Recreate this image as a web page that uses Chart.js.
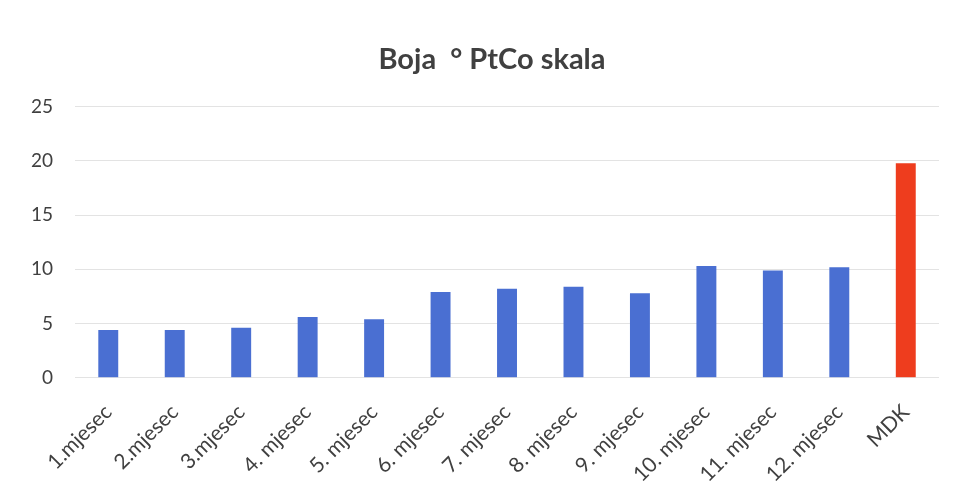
<!DOCTYPE html>
<html>
<head>
<meta charset="utf-8">
<script src="https://cdn.jsdelivr.net/npm/chart.js@4/dist/chart.umd.min.js"></script>
<style>
	html, body { margin: 0; padding: 0; background: #fff; }
	#wrap { width: 961px; height: 501px; }
</style>
</head>
<body>
<div id="wrap"><canvas id="actualChart"></canvas></div>
<script>
	var categories = ['1.mjesec', '2.mjesec', '3.mjesec', '4. mjesec', '5. mjesec', '6. mjesec', '7. mjesec',
		'8. mjesec', '9. mjesec', '10. mjesec', '11. mjesec', '12. mjesec', 'MDK'];
	var values = [4.4, 4.4, 4.6, 5.6, 5.4, 7.9, 8.2, 8.4, 7.8, 10.3, 9.9, 10.2, 19.8];
	var yTicks = [0, 5, 10, 15, 20, 25];

	var colors = categories.map((c) => c == 'MDK' ? '#ee3d1e' : '#4a6fd2');

	var data = {
		labels: categories,
		datasets: [{
			data: values,
			backgroundColor: colors,
			borderWidth: 0,
			barPercentage: 0.3,
			categoryPercentage: 1
		}]
	};

	// title sits a bit right of the centre in the original
	var titleShift = {
		id: 'titleShift',
		afterLayout(chart){
			let t = chart.titleBlock;
			if (t){ t.left += 18; t.right += 18; }
		}
	};

	var options = {
		responsive: true,
		maintainAspectRatio: false,
		animation: false,
		layout: { padding: { left: 9, right: 22, top: 42, bottom: 0 } },
		plugins: {
			legend: { display: false },
			tooltip: { enabled: false },
			title: {
				display: true,
				text: 'Boja  ° PtCo skala',
				color: '#404040',
				font: { family: 'Lato', size: 29, weight: 'bold' },
				padding: { top: 0, bottom: 30 }
			}
		},
		scales: {
			x: {
				grid: { display: false },
				border: { display: false },
				ticks: {
					color: '#404040',
					font: { family: 'Lato', size: 21 },
					minRotation: 45,
					maxRotation: 45,
					padding: 14
				}
			},
			y: {
				min: yTicks[0],
				max: yTicks[yTicks.length - 1],
				grid: { color: '#e3e3e3', drawTicks: false },
				border: { display: false },
				afterBuildTicks: (axis) => { axis.ticks = yTicks.map((v) => ({ value: v })); },
				ticks: {
					color: '#404040',
					font: { family: 'Lato', size: 19 },
					padding: 22
				}
			}
		}
	};

	new Chart(document.getElementById('actualChart'), { type: 'bar', data, options, plugins: [titleShift] });
</script>
</body>
</html>
